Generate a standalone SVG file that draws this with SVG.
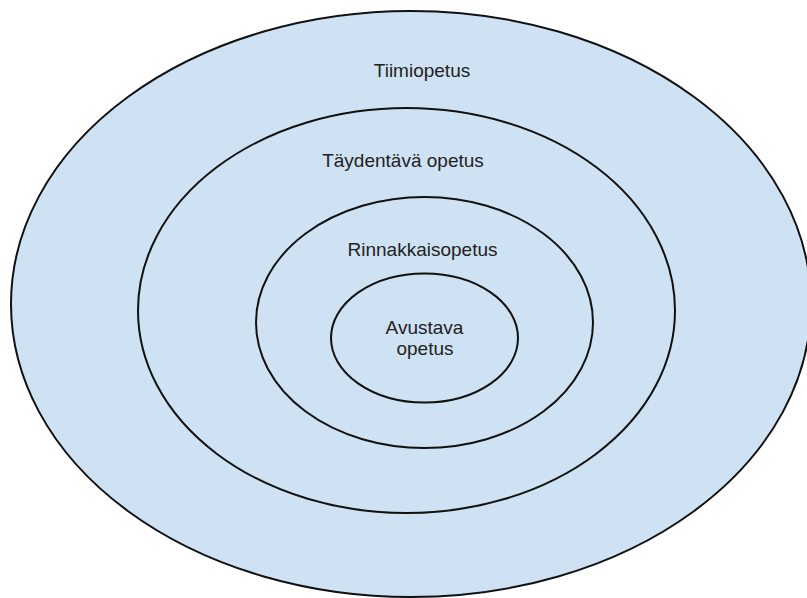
<svg xmlns="http://www.w3.org/2000/svg" width="807" height="598" viewBox="0 0 807 598">
<style>
.ring{fill:#cfe2f3;stroke:#111;stroke-width:2}
.lbl{font-family:"Liberation Sans",Arial,sans-serif;font-size:19px;fill:#222;text-anchor:middle}
</style>
<rect width="807" height="598" fill="#fff"/>
<g id="tiimiopetus">
<ellipse class="ring" cx="411" cy="304" rx="400" ry="293"/>
<text class="lbl" x="422" y="77">Tiimiopetus</text>
</g>
<g id="taydentava">
<ellipse class="ring" cx="406.5" cy="310.5" rx="268.5" ry="202.5"/>
<text class="lbl" x="403" y="167">Täydentävä opetus</text>
</g>
<g id="rinnakkais">
<ellipse class="ring" cx="424.5" cy="322.5" rx="168.5" ry="125.5"/>
<text class="lbl" x="422.5" y="256">Rinnakkaisopetus</text>
</g>
<g id="avustava">
<ellipse class="ring" cx="424.5" cy="338" rx="93.5" ry="64.5"/>
<text class="lbl" x="424.5" y="334">Avustava</text>
<text class="lbl" x="425" y="355">opetus</text>
</g>
<g id="connectors"/>
</svg>
